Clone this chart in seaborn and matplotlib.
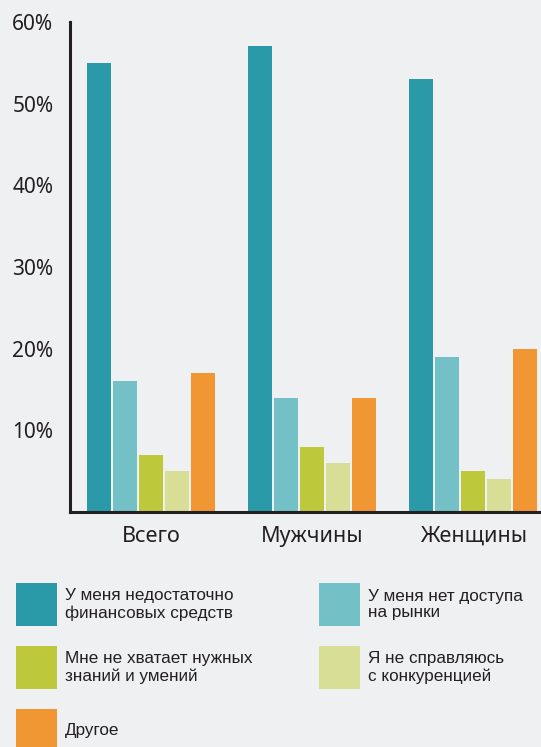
import matplotlib
matplotlib.use("Agg")
import matplotlib.pyplot as plt
import seaborn as sns
import pandas as pd
from matplotlib.patches import Rectangle

groups = ["Всего", "Мужчины", "Женщины"]
reasons = [
    "У меня недостаточно\nфинансовых средств",
    "У меня нет доступа\nна рынки",
    "Мне не хватает нужных\nзнаний и умений",
    "Я не справляюсь\nс конкуренцией",
    "Другое",
]
values = {
    reasons[0]: [55, 57, 53],
    reasons[1]: [16, 14, 19],
    reasons[2]: [7, 8, 5],
    reasons[3]: [5, 6, 4],
    reasons[4]: [17, 14, 20],
}
colors = ["#2a9aa9", "#74c0c7", "#bdc83b", "#d8de95", "#f09733"]
y_ticks = [10, 20, 30, 40, 50, 60]
y_labels = ["10%", "20%", "30%", "40%", "50%", "60%"]

rows = []
for r in reasons:
    for g, v in zip(groups, values[r]):
        rows.append({"group": g, "reason": r, "value": v})
df = pd.DataFrame(rows)

bg = "#eff0f2"
sns.set_style("white")
plt.rcParams["font.family"] = ["Noto Sans", "DejaVu Sans"]

fig = plt.figure(figsize=(5.41, 7.47), dpi=100, facecolor=bg)
ax = fig.add_axes([70 / 541, 1 - 512 / 747, 1 - 70 / 541, (512 - 22) / 747])
ax.set_facecolor(bg)

sns.barplot(data=df, x="group", y="value", hue="reason", hue_order=reasons,
            order=groups, palette=colors, saturation=1, width=0.807, gap=0.08,
            linewidth=0, legend=False, ax=ax)

ax.set_xlim(-0.503, 2.42)
ax.set_ylim(0, 60)
ax.set_xlabel("")
ax.set_ylabel("")
for s in ["top", "right"]:
    ax.spines[s].set_visible(False)
for s in ["left", "bottom"]:
    ax.spines[s].set_linewidth(2.2)
    ax.spines[s].set_color("#231f20")

ax.set_yticks(y_ticks)
ax.set_yticklabels(y_labels)
ax.tick_params(axis="y", direction="in", length=9, width=2.2, color="#231f20",
               labelsize=15, labelcolor="#231f20", pad=12)
for t in ax.get_yticklabels():
    t.set_y(t.get_position()[1])
    t.set_va("center_baseline")
ax.set_xticks(range(len(groups)))
ax.set_xticklabels(groups)
ax.tick_params(axis="x", which="major", length=0, labelsize=15.5,
               labelcolor="#231f20", pad=10)
ax.set_xticks([0.5, 1.5], minor=True)
ax.tick_params(axis="x", which="minor", direction="in", length=9, width=2.2,
               color="#231f20")

# legend
leg_font = ["Liberation Sans", "DejaVu Sans"]
positions = [(16, 583), (319, 583), (16, 646), (319, 646), (16, 709)]
for (px, py), c, lab in zip(positions, colors, reasons):
    fig.add_artist(Rectangle((px / 541, 1 - (py + 43) / 747), 41 / 541, 43 / 747,
                             transform=fig.transFigure, facecolor=c, edgecolor="none"))
    fig.text((px + 49) / 541, 1 - (py + 21.5) / 747, lab, ha="left", va="center",
             fontsize=12.3, color="#231f20", family=leg_font, linespacing=1.15)

fig.savefig("out.png", dpi=100, facecolor=bg)
